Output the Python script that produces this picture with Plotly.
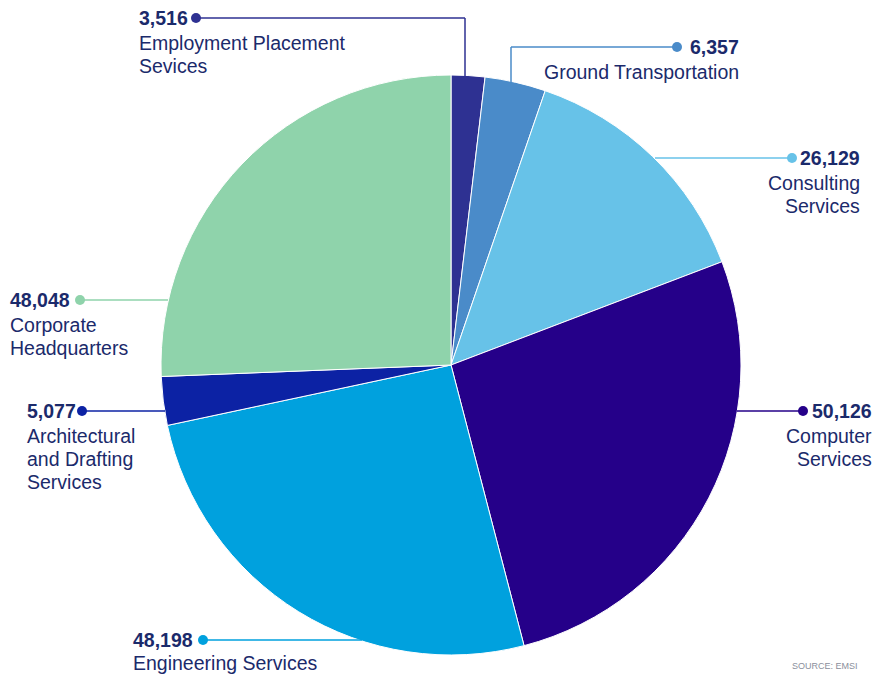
import plotly.graph_objects as go

categories = ["Employment Placement Sevices", "Ground Transportation", "Consulting Services",
              "Computer Services", "Engineering Services", "Architectural and Drafting Services",
              "Corporate Headquarters"]
values = [3516, 6357, 26129, 50126, 48198, 5077, 48048]
colors = ["#2e3192", "#4a8bc9", "#67c2e8", "#250089", "#00a1de", "#0c22a4", "#8fd3ab"]

W, H = 890, 674
CX, CY, R = 451, 365, 290
NAVY = "#1b2a6b"

def px(x):
    return x / W

def py(y):
    return 1 - y / H

fig = go.Figure()
fig.add_trace(go.Pie(
    labels=categories, values=values, sort=False, direction="clockwise", rotation=0,
    marker=dict(colors=colors, line=dict(color="white", width=1)),
    textinfo="none", hoverinfo="label+value", showlegend=False,
    domain=dict(x=[px(CX - R), px(CX + R)], y=[py(CY + R), py(CY - R)]),
))

# label layout: (value index, dot x, dot y, text x, anchor, line points, label lines, gap)
label_specs = [
    (0, 196, 18, 137, "left", [(196, 18), (465, 18), (465, 76)], ["Employment Placement", "Sevices"], 25),
    (1, 677, 47, 741, "right", [(677, 47), (511, 47), (511, 84)], ["Ground Transportation"], 25),
    (2, 792, 158, 862, "right", [(792, 158), (655, 158)], ["Consulting", "Services"], 25),
    (3, 803, 411, 874, "right", [(803, 411), (737, 411)], ["Computer", "Services"], 25),
    (4, 203, 640, 131, "left", [(203, 640), (362, 640)], ["Engineering Services"], 23),
    (5, 82, 411, 25, "left", [(82, 411), (165, 411)], ["Architectural", "and Drafting", "Services"], 25),
    (6, 80, 300, 8, "left", [(80, 300), (168, 300)], ["Corporate", "Headquarters"], 25),
]

shapes = []
annotations = []
for idx, dx, dy, tx, anchor, pts, lines, gap in label_specs:
    col = colors[idx]
    for (x0, y0), (x1, y1) in zip(pts[:-1], pts[1:]):
        shapes.append(dict(type="line", xref="paper", yref="paper",
                           x0=px(x0), y0=py(y0), x1=px(x1), y1=py(y1),
                           line=dict(color=col, width=1.5)))
    shapes.append(dict(type="circle", xref="paper", yref="paper",
                       x0=px(dx - 5), x1=px(dx + 5), y0=py(dy + 5), y1=py(dy - 5),
                       fillcolor=col, line=dict(color=col, width=0)))
    annotations.append(dict(text=f"<b>{values[idx]:,}</b>", x=px(tx), y=py(dy),
                            xref="paper", yref="paper", xanchor=anchor, yanchor="middle",
                            showarrow=False,
                            font=dict(family="Liberation Sans, Arial", size=19.5, color=NAVY)))
    for k, ln in enumerate(lines):
        annotations.append(dict(text=ln, x=px(tx), y=py(dy + gap + 23 * k),
                                xref="paper", yref="paper", xanchor=anchor, yanchor="middle",
                                showarrow=False,
                                font=dict(family="Liberation Sans, Arial", size=19.5, color=NAVY)))

annotations.append(dict(text="SOURCE: EMSI", x=px(790), y=py(673), xref="paper", yref="paper",
                        xanchor="left", yanchor="bottom", showarrow=False,
                        font=dict(family="Liberation Sans, Arial", size=9, color="#8a8f9c")))

fig.update_layout(width=W, height=H, margin=dict(l=0, r=0, t=0, b=0),
                  paper_bgcolor="white", plot_bgcolor="white",
                  shapes=shapes, annotations=annotations)

fig.write_html("out.html", config={"displayModeBar": False},
               post_script="document.body.style.margin='0';document.body.style.overflow='hidden';")
